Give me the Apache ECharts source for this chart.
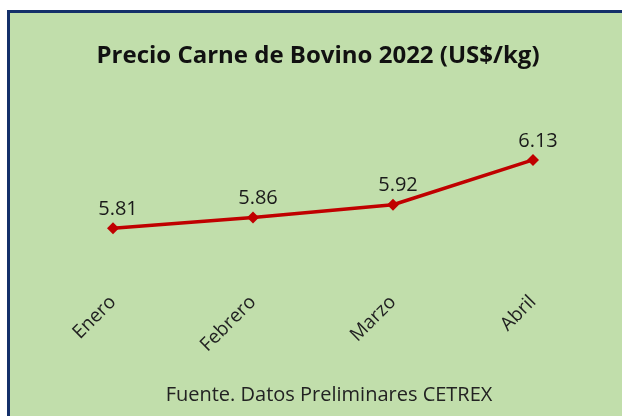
<!DOCTYPE html>
<html>
<head>
<meta charset="utf-8">
<script src="https://cdn.jsdelivr.net/npm/echarts@6/dist/echarts.min.js"></script>
<style>
html, body { margin: 0; padding: 0; background: #ffffff; }
#chart { position: absolute; left: 7px; top: 10px; width: 624px; height: 416px;
         background: #c1deab; border: 3px solid #14306a; box-sizing: border-box; }
</style>
</head>
<body>
<div id="chart"></div>
<script>
var months = ['Enero', 'Febrero', 'Marzo', 'Abril'];
var precios = [5.81, 5.86, 5.92, 6.13];
var titulo = 'Precio Carne de Bovino 2022 (US$/kg)';
var fuente = 'Fuente. Datos Preliminares CETREX';

var myChart = echarts.init(document.getElementById('chart'));
var option = {
    animation: false,
    title: [{
        text: titulo,
        left: 303, top: 26, textAlign: 'center',
        textStyle: { fontFamily: 'Open Sans', fontWeight: 'bold', fontSize: 24, color: '#111' }
    }, {
        text: fuente,
        left: 314, top: 367, textAlign: 'center',
        textStyle: { fontFamily: 'Open Sans', fontWeight: 'normal', fontSize: 20, color: '#222' }
    }],
    grid: { left: 33, right: 25, top: 132, bottom: 150 },
    xAxis: {
        type: 'category',
        data: months,
        boundaryGap: true,
        axisLine: { show: false },
        axisTick: { show: false },
        axisLabel: { rotate: 45, margin: 26, fontFamily: 'Open Sans', fontSize: 19, color: '#222' }
    },
    yAxis: {
        type: 'value',
        min: 5.6, max: 6.2,
        show: false
    },
    series: [{
        type: 'line',
        data: precios,
        symbol: 'diamond',
        symbolSize: 12,
        itemStyle: { color: '#c00000' },
        lineStyle: { color: '#c00000', width: 3.5 },
        label: { show: true, position: 'top', distance: 3, offset: [5, 0],
                 fontFamily: 'Open Sans', fontSize: 20, color: '#1a1a1a' }
    }]
};
myChart.setOption(option);
</script>
</body>
</html>
